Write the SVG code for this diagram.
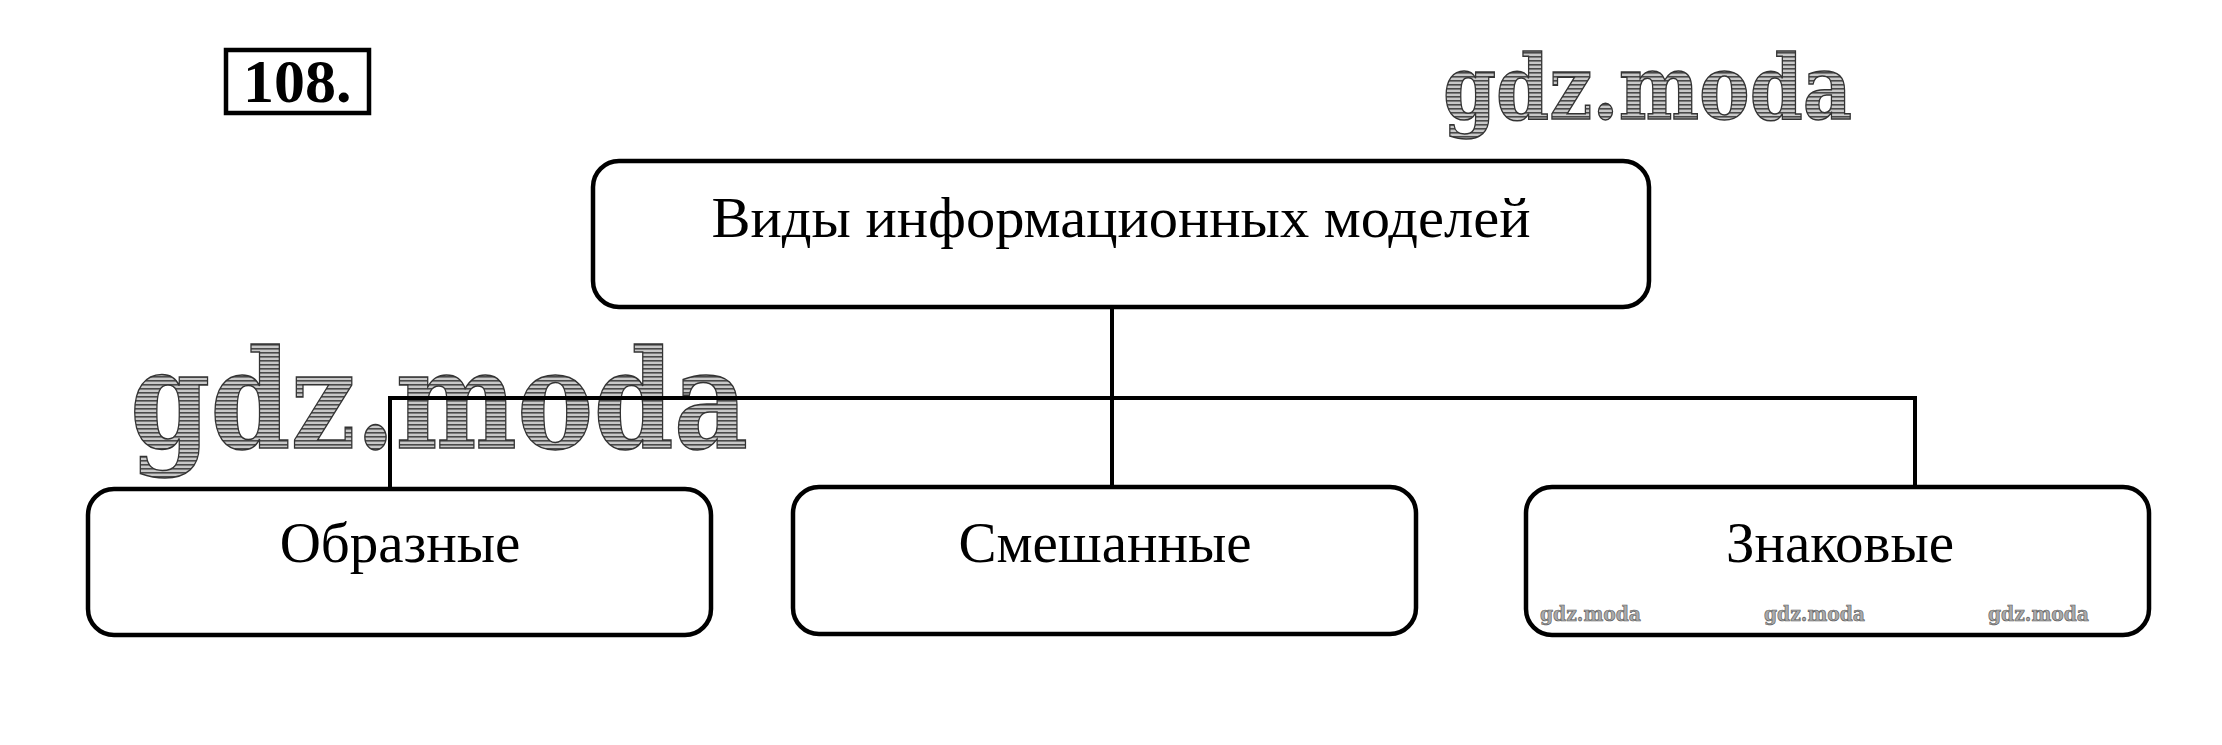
<svg xmlns="http://www.w3.org/2000/svg" width="2222" height="745" viewBox="0 0 2222 745">
<defs>
<pattern id="hatch" width="6" height="4" patternUnits="userSpaceOnUse">
<rect width="6" height="4" fill="#c8c8c8"/>
<rect width="6" height="1.6" fill="#4a4a4a"/>
</pattern>
<style>
.box{fill:#fff;stroke:#000;stroke-width:4.5}
.lbl{font-family:"Liberation Serif","Times New Roman",serif;font-size:57px;fill:#000;text-anchor:middle}
.conn{stroke:#000;stroke-width:4;fill:none}
.wm{font-family:"DejaVu Serif",serif;font-weight:bold;fill:url(#hatch);stroke:#333;stroke-width:1.5}
.wms{font-family:"DejaVu Serif",serif;font-weight:bold;font-size:20px;fill:#aaa;stroke:#555;stroke-width:0.6}
</style>
</defs>
<rect width="2222" height="745" fill="#fff"/>
<g id="number">
<rect x="226" y="50" width="143" height="63" fill="none" stroke="#000" stroke-width="4.5"/>
<text x="243" y="102" font-family="Liberation Serif,serif" font-weight="bold" font-size="62">108.</text>
</g>
<g id="watermarks">
<text class="wm" x="1443" y="119" font-size="90" textLength="409" lengthAdjust="spacingAndGlyphs">gdz.moda</text>
<text class="wm" x="130" y="448" font-size="136" textLength="618" lengthAdjust="spacingAndGlyphs">gdz.moda</text>
</g>
<g id="connectors">
<line class="conn" x1="1112" y1="307" x2="1112" y2="487"/>
<line class="conn" x1="388" y1="398" x2="1917" y2="398"/>
<line class="conn" x1="390" y1="396" x2="390" y2="489"/>
<line class="conn" x1="1915" y1="396" x2="1915" y2="487"/>
</g>
<g id="root">
<rect class="box" x="593" y="161" width="1056" height="146" rx="26"/>
<text class="lbl" x="1121" y="237" textLength="819" lengthAdjust="spacingAndGlyphs">Виды информационных моделей</text>
</g>
<g id="obraznye">
<rect class="box" x="88" y="489" width="623" height="146" rx="26"/>
<text class="lbl" x="400" y="562">Образные</text>
</g>
<g id="smeshannye">
<rect class="box" x="793" y="487" width="623" height="147" rx="26"/>
<text class="lbl" x="1105" y="562">Смешанные</text>
</g>
<g id="znakovye">
<rect class="box" x="1526" y="487" width="623" height="148" rx="26"/>
<text class="lbl" x="1840" y="562">Знаковые</text>
<text class="wms" x="1540" y="621" textLength="101" lengthAdjust="spacingAndGlyphs">gdz.moda</text>
<text class="wms" x="1764" y="621" textLength="101" lengthAdjust="spacingAndGlyphs">gdz.moda</text>
<text class="wms" x="1988" y="621" textLength="101" lengthAdjust="spacingAndGlyphs">gdz.moda</text>
</g>
</svg>
